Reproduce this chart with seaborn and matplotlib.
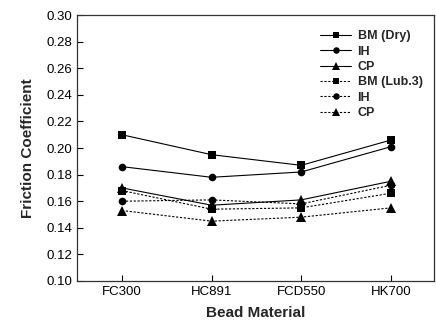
import matplotlib
matplotlib.use("Agg")
import matplotlib.pyplot as plt
import seaborn as sns

# bead materials on the x axis
materials = ["FC300", "HC891", "FCD550", "HK700"]

# friction coefficients, dry condition
bm_dry = [0.210, 0.195, 0.187, 0.206]
ih_dry = [0.186, 0.178, 0.182, 0.201]
cp_dry = [0.170, 0.157, 0.161, 0.175]

# friction coefficients, lubricated (Lub.3)
bm_lub = [0.168, 0.154, 0.155, 0.166]
ih_lub = [0.160, 0.161, 0.158, 0.172]
cp_lub = [0.153, 0.145, 0.148, 0.155]

series = [
    ("BM (Dry)", bm_dry, "s", "-"),
    ("IH", ih_dry, "o", "-"),
    ("CP", cp_dry, "^", "-"),
    ("BM (Lub.3)", bm_lub, "s", (0, (2, 1.5))),
    ("IH", ih_lub, "o", (0, (2, 1.5))),
    ("CP", cp_lub, "^", (0, (2, 1.5))),
]

sns.set_style("ticks")
plt.rcParams["font.family"] = ["Liberation Sans", "DejaVu Sans"]

fig = plt.figure(figsize=(4.36, 3.29), dpi=100)
ax = fig.add_axes([0.177, 0.146, 0.818, 0.808])

for label, vals, mk, ls in series:
    ms = 6.5 if mk == "^" else 5.5
    sns.lineplot(x=materials, y=vals, ax=ax, color="black", marker=mk,
                 markersize=ms, markeredgewidth=0, linewidth=0.8,
                 linestyle=ls, label=label, sort=False)

ax.set_xlim(-0.5, 3.48)
ax.set_ylim(0.10, 0.30)
ax.set_yticks([0.10 + 0.02 * i for i in range(11)])
ax.yaxis.set_major_formatter(matplotlib.ticker.FormatStrFormatter("%.2f"))

ax.set_xlabel("Bead Material", fontsize=11, fontweight="bold", labelpad=6)
ax.set_ylabel("Friction Coefficient", fontsize=11, fontweight="bold", labelpad=8)

ax.tick_params(direction="in", length=4, width=0.8, labelsize=9.5, colors="black")
for sp in ax.spines.values():
    sp.set_visible(True)
    sp.set_linewidth(0.9)
    sp.set_color("#333333")

leg = ax.legend(loc="upper right", frameon=False, markerscale=0.85,
                prop={"weight": "bold", "size": 9}, handlelength=2.5,
                labelspacing=0.27, handletextpad=0.5,
                bbox_to_anchor=(1.0, 0.985))

fig.savefig("out.png", dpi=100)
